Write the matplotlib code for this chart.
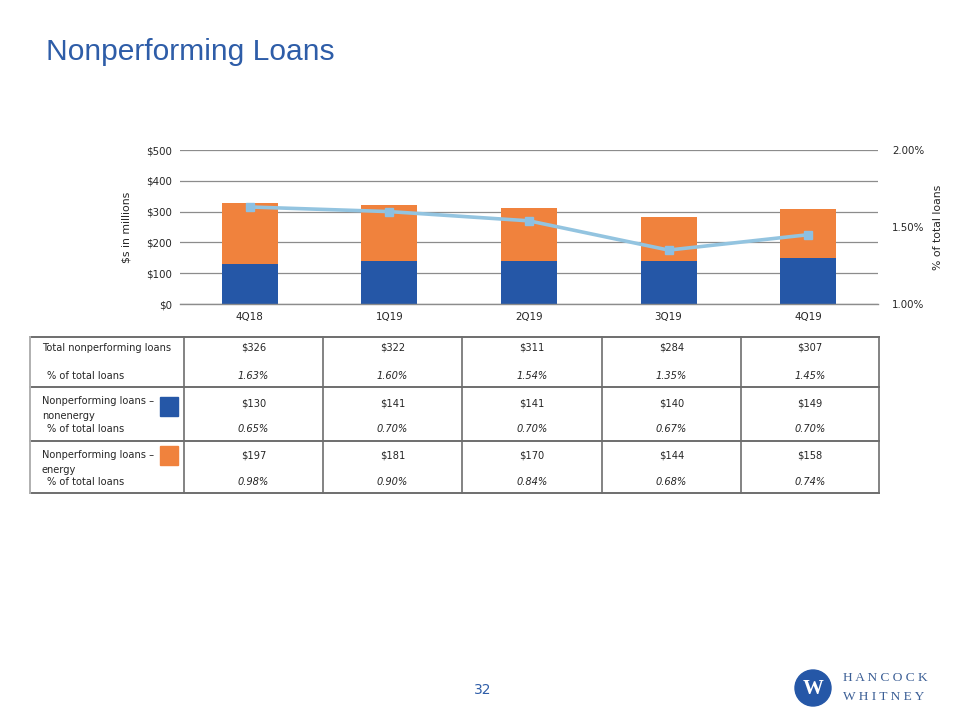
import matplotlib
matplotlib.use("Agg")
import matplotlib.pyplot as plt
from matplotlib.patches import Rectangle, Circle
from matplotlib.ticker import FuncFormatter

# data
quarters = ["4Q18", "1Q19", "2Q19", "3Q19", "4Q19"]
nonenergy = [130, 141, 141, 140, 149]
energy = [197, 181, 170, 144, 158]
total = [326, 322, 311, 284, 307]
pct_total = [1.63, 1.60, 1.54, 1.35, 1.45]
pct_nonenergy = [0.65, 0.70, 0.70, 0.67, 0.70]
pct_energy = [0.98, 0.90, 0.84, 0.68, 0.74]

blue = "#2557A7"
orange = "#F0823D"
light = "#93C4E0"
title_blue = "#2E5DA8"
txt = "#262626"

plt.rcParams["font.family"] = ["DejaVu Sans"]

fig = plt.figure(figsize=(9.6, 7.2), dpi=100)

# chart
ax = fig.add_axes([180 / 960, 1 - 304 / 720, 698 / 960, 154 / 720])
x = range(len(quarters))
ax.bar(x, nonenergy, width=0.4, color=blue, zorder=3)
ax.bar(x, energy, width=0.4, bottom=nonenergy, color=orange, zorder=3)
ax.set_xlim(-0.5, 4.5)
ax.set_ylim(0, 500)
ax.set_yticks([0, 100, 200, 300, 400, 500])
ax.yaxis.set_major_formatter(FuncFormatter(lambda v, p: f"${v:.0f}"))
ax.set_xticks(list(x))
ax.set_xticklabels(quarters)
ax.grid(axis="y", color="#8c8c8c", lw=0.9, zorder=0)
ax.axhline(0, color="#8c8c8c", lw=1.0, clip_on=False, zorder=4)
for s in ax.spines.values():
    s.set_visible(False)
ax.tick_params(length=0, labelsize=7.4, colors=txt, pad=6)
ax.set_ylabel("$s in millions", fontsize=7.8, color=txt, labelpad=10)

ax2 = ax.twinx()
ax2.plot(list(x), pct_total, color=light, lw=2.6, marker="s", ms=6,
         markerfacecolor="#8CC0E3", markeredgecolor="#8CC0E3", zorder=4)
ax2.set_ylim(1.0, 2.0)
ax2.set_yticks([1.0, 1.5, 2.0])
ax2.yaxis.set_major_formatter(FuncFormatter(lambda v, p: f"{v:.2f}%"))
for s in ax2.spines.values():
    s.set_visible(False)
ax2.tick_params(length=0, labelsize=7.4, colors=txt, pad=10)
ax2.set_ylabel("% of total loans", fontsize=7.8, color=txt, labelpad=6)

# overlay in pixel coordinates for table and slide decorations
ov = fig.add_axes([0, 0, 1, 1])
ov.set_xlim(0, 960)
ov.set_ylim(720, 0)
ov.axis("off")

ov.text(46, 52, "Nonperforming Loans", fontsize=21.6, color=title_blue,
        family="Liberation Sans", va="center", ha="left")

# table grid
col_edges = [184, 323, 462, 602, 741, 879]
row_edges = [337, 387, 441, 493]
for yy in row_edges:
    ov.plot([30, 879], [yy, yy], color="#6e6e6e", lw=1.4)
ov.plot([30, 30], [337, 493], color="#b0b0b0", lw=1.4)
for xx in col_edges:
    ov.plot([xx, xx], [337, 493], color="#6e6e6e", lw=1.2)

centers = [(col_edges[i] + col_edges[i + 1]) / 2 for i in range(5)]
fs = 7.1
rows = [
    (total, pct_total, 348, 376),
    (nonenergy, pct_nonenergy, 403, 429),
    (energy, pct_energy, 455, 482),
]
for vals, pcts, yv, yp in rows:
    for cx, v, p in zip(centers, vals, pcts):
        ov.text(cx, yv, f"${v}", ha="center", va="center", fontsize=fs, color=txt)
        ov.text(cx, yp, f"{p:.2f}%", ha="center", va="center", fontsize=fs,
                color=txt, style="italic")

ov.text(42, 348, "Total nonperforming loans", ha="left", va="center", fontsize=fs, color=txt)
ov.text(47, 376, "% of total loans", ha="left", va="center", fontsize=fs, color=txt)
ov.text(42, 401, "Nonperforming loans \u2013", ha="left", va="center", fontsize=fs, color=txt)
ov.text(42, 416, "nonenergy", ha="left", va="center", fontsize=fs, color=txt)
ov.text(47, 429, "% of total loans", ha="left", va="center", fontsize=fs, color=txt)
ov.text(42, 455, "Nonperforming loans \u2013", ha="left", va="center", fontsize=fs, color=txt)
ov.text(42, 470, "energy", ha="left", va="center", fontsize=fs, color=txt)
ov.text(47, 482, "% of total loans", ha="left", va="center", fontsize=fs, color=txt)

ov.add_patch(Rectangle((160, 397), 18, 19, color=blue))
ov.add_patch(Rectangle((160, 446), 18, 19, color=orange))

# page number and logo
ov.text(483, 690, "32", ha="center", va="center", fontsize=10, color=title_blue)
ov.add_patch(Circle((813, 688), 18, color="#2557A7"))
ov.text(813, 689, "W", ha="center", va="center", fontsize=15, color="white",
        family="Liberation Serif", weight="bold")
ov.text(843, 678, "H A N C O C K", ha="left", va="center", fontsize=9.6,
        color="#3b5e95", family="Liberation Serif")
ov.text(843, 697, "W H I T N E Y", ha="left", va="center", fontsize=9.6,
        color="#3b5e95", family="Liberation Serif")

fig.savefig("out.png", dpi=100)
